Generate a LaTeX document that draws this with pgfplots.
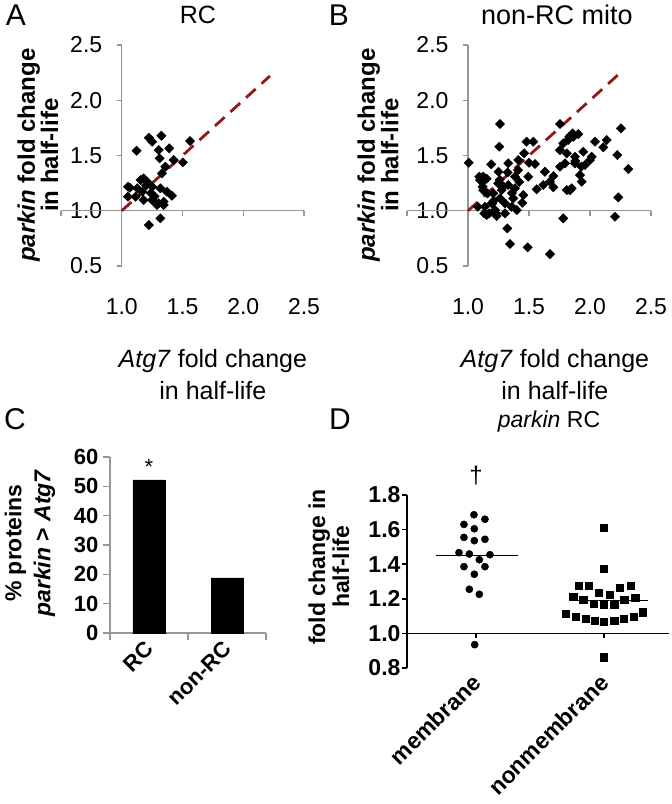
\documentclass[border=0pt]{standalone}
\usepackage{pgfplots}
\pgfplotsset{compat=1.18}
\usepackage{fontspec}
\setmainfont{Liberation Sans}
\definecolor{axgray}{RGB}{150,150,150}
\definecolor{dashred}{RGB}{145,25,25}
\pgfplotsset{
  scat/.style={only marks, mark=square*, mark size=3.3pt, mark options={rotate=45, draw=black, fill=black}},
  panelAB/.style={
    scale only axis, width=183pt, height=221pt,
    xmin=1, xmax=2.5, ymin=0.5, ymax=2.5, clip=false,
    axis lines*=left,
    x axis line style={draw=none},
    y axis line style={axgray, line width=1.2pt},
    xtick={1,1.5,2,2.5}, xticklabels={1.0,1.5,2.0,2.5},
    ytick={0.5,1,1.5,2,2.5}, yticklabels={0.5,1.0,1.5,2.0,2.5},
    tick align=outside, major tick length=5pt,
    xtick style={draw=none},
    ytick style={axgray, line width=1.2pt},
    ticklabel style={font=\fontsize{23}{23}\selectfont},
    yticklabel style={xshift=-11pt},
    xticklabel style={yshift=-24pt},
    xlabel style={align=center, font=\fontsize{25}{32}\selectfont, anchor=center},
    ylabel style={align=center, font=\bfseries\fontsize{24}{21}\selectfont, anchor=center},
    title style={anchor=center, yshift=-6pt},
  },
}
\begin{document}
\begin{tikzpicture}
\path[use as bounding box] (0pt,0pt) rectangle (672pt,-804pt);

% Panel letters
\node[font=\fontsize{30}{30}\selectfont] at (16pt,-15pt) {A};
\node[font=\fontsize{30}{30}\selectfont] at (339pt,-15pt) {B};
\node[font=\fontsize{30}{30}\selectfont] at (15pt,-419pt) {C};
\node[font=\fontsize{30}{30}\selectfont] at (340pt,-419pt) {D};

% ---------------- Panel A ----------------
\begin{axis}[panelAB, at={(121.75pt,-266pt)}, anchor=south west, width=182.25pt,
  xlabel={\textit{Atg7} fold change\\in half-life},
  xlabel style={at={(axis description cs:0.5,-0.493)}},
  ylabel={\textit{parkin} fold change\\in half-life},
  ylabel style={at={(axis description cs:-0.46,0.502)}},
  title={RC}, title style={font=\fontsize{25}{25}\selectfont, at={(axis description cs:0.418,1.136)}},
]
\draw[axgray, line width=1.2pt] (axis cs:0.5,1) -- (axis cs:2.5,1);
\draw[axgray, line width=1.2pt] (axis cs:0.5,1) -- ++(0pt,-5pt);
\draw[axgray, line width=1.2pt] (axis cs:1.5,1) -- ++(0pt,-5pt);
\draw[axgray, line width=1.2pt] (axis cs:2,1) -- ++(0pt,-5pt);
\draw[axgray, line width=1.2pt] (axis cs:2.5,1) -- ++(0pt,-5pt);
\addplot[scat] table {
x y
1.326 1.679
1.223 1.661
1.25 1.625
1.562 1.631
1.122 1.543
1.391 1.565
1.304 1.549
1.312 1.474
1.427 1.459
1.503 1.438
1.359 1.398
1.331 1.338
1.18 1.293
1.155 1.278
1.209 1.263
1.068 1.208
1.128 1.203
1.25 1.217
1.318 1.203
1.372 1.172
1.168 1.172
1.051 1.127
1.114 1.127
1.18 1.097
1.25 1.097
1.304 1.067
1.345 1.081
1.413 1.136
1.345 1.052
1.29 1.052
1.318 0.931
1.223 0.871
1.2 1.23
1.27 1.13
1.24 1.16
1.052 1.217
};
\addplot[dashred, line width=2.8pt, dash pattern=on 13pt off 8pt] coordinates {(1,1) (2.22,2.22)};
\end{axis}

% ---------------- Panel B ----------------
\begin{axis}[panelAB, at={(468pt,-266pt)}, anchor=south west, width=183pt,
  xlabel={\textit{Atg7} fold change\\in half-life},
  xlabel style={at={(axis description cs:0.475,-0.493)}},
  ylabel={\textit{parkin} fold change\\in half-life},
  ylabel style={at={(axis description cs:-0.492,0.502)}},
  title={non-RC mito}, title style={font=\fontsize{27}{27}\selectfont, at={(axis description cs:0.486,1.136)}},
]
\draw[axgray, line width=1.2pt] (axis cs:0.5,1) -- (axis cs:2.5,1);
\draw[axgray, line width=1.2pt] (axis cs:0.5,1) -- ++(0pt,-5pt);
\draw[axgray, line width=1.2pt] (axis cs:1.5,1) -- ++(0pt,-5pt);
\draw[axgray, line width=1.2pt] (axis cs:2,1) -- ++(0pt,-5pt);
\draw[axgray, line width=1.2pt] (axis cs:2.5,1) -- ++(0pt,-5pt);
\addplot[scat] table {
x y
1.006 1.434
1.262 1.785
1.257 1.58
1.754 1.785
2.254 1.746
1.83 1.67
1.858 1.70
1.904 1.694
2.041 1.625
2.137 1.64
2.109 1.574
2.224 1.504
2.314 1.377
2.232 1.121
2.205 0.946
1.781 0.931
1.322 0.84
1.344 0.699
1.489 0.669
1.672 0.608
1.48 1.625
1.535 1.625
1.19 1.42
1.125 1.31
1.153 1.29
1.25 1.353
1.325 1.347
1.412 1.459
1.46 1.52
1.549 1.423
1.63 1.353
1.70 1.314
1.672 1.263
1.70 1.212
1.563 1.194
1.494 1.308
1.385 1.308
1.33 1.233
1.276 1.187
1.125 1.187
1.207 1.157
1.262 1.112
1.303 1.067
1.358 1.036
1.40 1.006
1.221 1.006
1.153 0.961
1.235 0.952
1.303 0.976
1.445 1.072
1.453 1.142
1.371 1.112
1.098 1.278
1.248 1.248
1.194 1.067
1.139 1.036
1.385 1.203
1.33 1.43
1.617 1.233
1.41 1.368
1.50 1.434
1.81 1.187
1.85 1.203
2.014 1.489
1.945 1.534
1.781 1.61
1.81 1.519
1.795 1.429
1.877 1.429
1.959 1.414
2.0 1.459
1.918 1.323
1.932 1.263
1.836 1.187
1.754 1.398
1.754 1.549
1.877 1.489
1.093 1.308
1.134 1.278
1.12 1.217
1.16 1.157
1.20 1.067
1.08 1.036
1.134 0.976
1.175 0.976
1.23 0.976
1.864 1.67
1.82 1.64
1.93 1.40
1.88 1.45
1.26 1.28
1.29 1.22
1.36 1.16
1.42 1.26
1.21 1.09
};
\addplot[dashred, line width=2.8pt, dash pattern=on 13pt off 8pt] coordinates {(1,1) (2.24,2.24)};
\end{axis}

% ---------------- Panel C ----------------
\begin{axis}[at={(110pt,-633pt)}, anchor=south west,
  scale only axis, width=156pt, height=176pt,
  xmin=-0.5, xmax=1.5, ymin=0, ymax=60, clip=false,
  axis lines*=left,
  axis line style={axgray, line width=1.2pt},
  xtick={0,1}, xticklabels={RC,non-RC}, xtick style={draw=none},
  ytick={0,10,20,30,40,50,60}, yticklabels={0,10,20,30,40,50,60},
  tick align=outside, major tick length=7pt,
  ytick style={axgray, line width=1.2pt},
  ticklabel style={font=\bfseries\fontsize{22}{22}\selectfont},
  yticklabel style={xshift=-1pt},
  xticklabel style={rotate=45, anchor=east, yshift=-4pt},
  ylabel={\% proteins\\\textit{parkin} > \textit{Atg7}},
  ylabel style={align=center, font=\bfseries\fontsize{23}{29}\selectfont, anchor=center, at={(axis description cs:-0.513,0.511)}},
]
\draw[axgray, line width=1.2pt] (axis cs:-0.5,0) -- ++(0pt,-7pt);
\draw[axgray, line width=1.2pt] (axis cs:0.5,0) -- ++(0pt,-7pt);
\draw[axgray, line width=1.2pt] (axis cs:1.5,0) -- ++(0pt,-7pt);
\addplot[ybar, bar width=32pt, fill=black, draw=black] coordinates {(0,52.2) (1,18.8)};
\node[font=\fontsize{22}{22}\selectfont] at (axis cs:0,56.5) {*};
\end{axis}

% ---------------- Panel D ----------------
\begin{axis}[at={(407pt,-668pt)}, anchor=south west,
  scale only axis, width=262pt, height=173pt,
  xmin=0.461, xmax=2.508, ymin=0.8, ymax=1.8, clip=false,
  axis lines*=left,
  x axis line style={draw=none},
  y axis line style={black, line width=1.6pt},
  xtick={1,2}, xticklabels={membrane,nonmembrane}, xtick style={draw=none},
  ytick={0.8,1,1.2,1.4,1.6,1.8}, yticklabels={0.8,1.0,1.2,1.4,1.6,1.8},
  tick align=outside, major tick length=5pt,
  ytick style={black, line width=1.6pt},
  ticklabel style={font=\bfseries\fontsize{23}{23}\selectfont},
  yticklabel style={xshift=2pt},
  xticklabel style={rotate=45, anchor=east, yshift=-4pt},
  ylabel={fold change in\\half-life},
  ylabel style={align=center, font=\bfseries\fontsize{23}{24}\selectfont, anchor=center, at={(axis description cs:-0.298,0.584)}},
  title={\textit{parkin} RC},
  title style={font=\fontsize{23}{23}\selectfont, anchor=center, yshift=-6pt, at={(axis description cs:0.542,1.422)}},
]
\draw[black, line width=1.6pt] (axis cs:0.461,1) -- (axis cs:2.508,1);
\draw[black, line width=1.6pt] (axis cs:1,1) -- ++(0pt,-5pt);
\draw[black, line width=1.6pt] (axis cs:2,1) -- ++(0pt,-5pt);
\addplot[only marks, mark=*, mark size=3.6pt, mark options={draw=black, fill=black}] table {
x y
0.984 1.686
1.07 1.66
0.906 1.63
0.987 1.605
0.906 1.555
0.987 1.536
1.07 1.544
0.867 1.467
0.948 1.459
1.109 1.455
1.026 1.426
0.906 1.386
1.07 1.386
0.987 1.342
0.948 1.255
1.026 1.226
0.99 0.935
};
\addplot[only marks, mark=square*, mark size=3.6pt, mark options={draw=black, fill=black}] table {
x y
2.0 1.609
2.0 1.376
1.805 1.274
1.883 1.274
1.961 1.235
2.042 1.226
2.12 1.265
2.208 1.274
1.76 1.214
1.838 1.195
1.922 1.172
2.0 1.166
2.08 1.166
2.158 1.195
2.244 1.206
1.70 1.112
1.779 1.095
1.857 1.087
1.93 1.075
2.0 1.066
2.08 1.075
2.151 1.087
2.23 1.095
2.30 1.123
2.0 0.862
};
\addplot[black, line width=1.4pt] coordinates {(0.69,1.449) (1.33,1.449)};
\addplot[black, line width=1.4pt] coordinates {(1.74,1.189) (2.34,1.189)};
\node[font=\fontsize{24}{24}\selectfont] at (axis cs:1,1.91) {\textdagger};
\end{axis}
\end{tikzpicture}
\end{document}
